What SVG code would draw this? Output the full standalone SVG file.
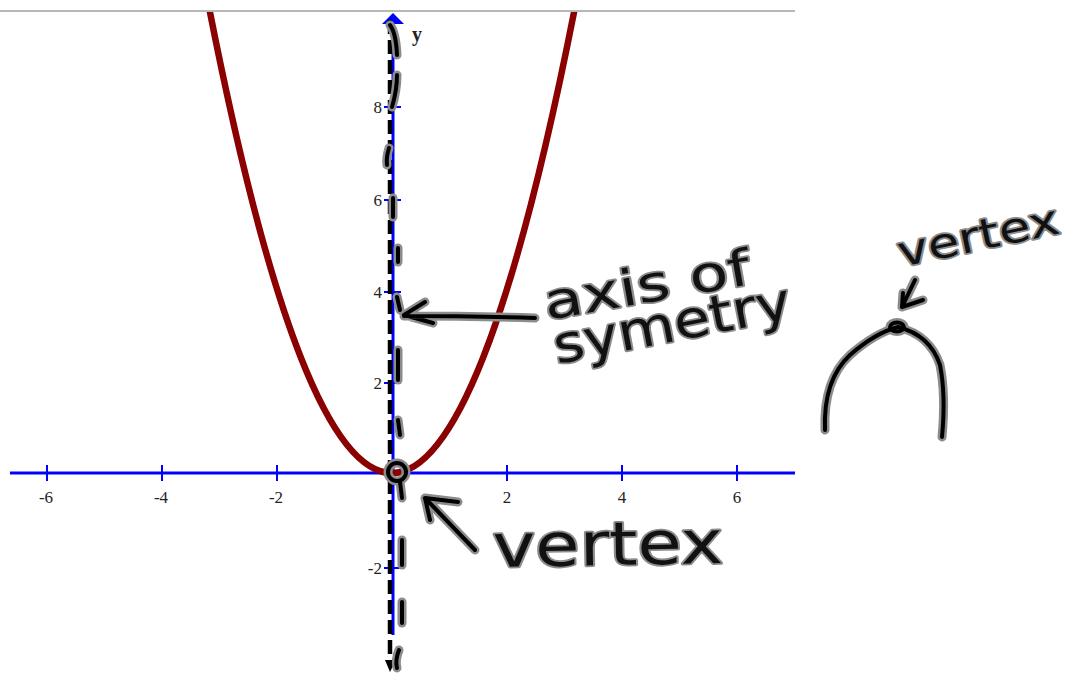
<svg xmlns="http://www.w3.org/2000/svg" xmlns:xlink="http://www.w3.org/1999/xlink" width="1075" height="675" viewBox="0 0 1075 675">
<style>
.axis{stroke:#0000ff;stroke-width:3;fill:none}
.tick{stroke:#0000ff;stroke-width:2}
.num{font-family:"Liberation Serif",serif;font-size:17px;fill:#222}
.halo{stroke:#8c8c8c;stroke-width:9;fill:none;stroke-linecap:round;stroke-linejoin:round}
.core{stroke:#000;stroke-width:4;fill:none;stroke-linecap:round;stroke-linejoin:round}
.hand{font-family:"DejaVu Sans",sans-serif;fill:#111;stroke:#8c8c8c;stroke-width:3.5;paint-order:stroke;stroke-linejoin:round}
</style>
<defs>
<clipPath id="plot"><rect x="0" y="12" width="800" height="670"/></clipPath>
<g id="ink">
<path d="M390,25 Q396,33 397,55"/>
<path d="M397,75 Q397,90 392,107"/>
<path d="M389,148 Q386,158 387,165"/>
<path d="M393,198 L393,217"/>
<path d="M398,248 L398,262"/>
<path d="M397,297 L400,310"/>
<path d="M398,350 L398,380"/>
<path d="M398,420 L400,435"/>
<path d="M400,482 L402,498"/>
<path d="M402,540 L402,565"/>
<path d="M402,602 L402,623"/>
<path d="M399,650 Q395,660 397,668"/>
<ellipse cx="397" cy="472" rx="9" ry="9"/>
<path d="M535,318 Q470,316 404,316 M425,302 L404,315 L433,323"/>
<path d="M475,550 L425,498 M458,502 L425,498 L430,520"/>
<path d="M915,280 L902,307 M903,293 L902,307 L923,300"/>
<path d="M825,430 Q823,380 850,355 Q875,333 898,327 Q930,335 940,365 Q946,395 942,437"/>
<ellipse cx="897" cy="327" rx="7" ry="4.5"/>
</g>
</defs>
<rect width="1075" height="675" fill="#fff"/>
<line x1="0" y1="11" x2="795" y2="11" stroke="#a0a0a0" stroke-width="1.5"/>
<g id="x-axis">
<line class="axis" x1="10" y1="473" x2="795" y2="473"/>
<g class="tick">
<line x1="47" y1="465" x2="47" y2="481"/><line x1="162" y1="465" x2="162" y2="481"/><line x1="277" y1="465" x2="277" y2="481"/>
<line x1="507" y1="465" x2="507" y2="481"/><line x1="622" y1="465" x2="622" y2="481"/><line x1="737" y1="465" x2="737" y2="481"/>
</g>
<g class="num" text-anchor="middle">
<text x="46" y="503">-6</text><text x="161" y="503">-4</text><text x="276" y="503">-2</text>
<text x="507" y="503">2</text><text x="622" y="503">4</text><text x="737" y="503">6</text>
</g>
</g>
<g id="y-axis">
<line class="axis" x1="393" y1="20" x2="393" y2="635"/>
<polygon points="382,24 393,13 404,24" fill="#0000ff"/>
<g class="tick">
<line x1="384" y1="107" x2="401" y2="107"/><line x1="384" y1="200" x2="401" y2="200"/><line x1="384" y1="292" x2="401" y2="292"/>
<line x1="384" y1="383" x2="401" y2="383"/><line x1="384" y1="568" x2="401" y2="568"/>
</g>
<g class="num" text-anchor="end">
<text x="382" y="113">8</text><text x="382" y="206">6</text><text x="382" y="298">4</text>
<text x="382" y="389">2</text><text x="382" y="574">-2</text>
</g>
<text x="412" y="41" font-family="Liberation Serif,serif" font-size="20" font-weight="bold" fill="#222">y</text>
</g>
<g id="parabola" clip-path="url(#plot)">
<path d="M209.7,10.8 Q392,935.3 574.3,10.8" fill="none" stroke="#8b0000" stroke-width="6.5"/>
</g>
<g id="connectors">
<line x1="390" y1="20" x2="390" y2="660" stroke="#000" stroke-width="4.5" stroke-dasharray="14,6"/>
<polygon points="385,660 396,660 390,672" fill="#000"/>
<use xlink:href="#ink" class="halo"/>
<use xlink:href="#ink" class="core"/>
</g>
<g id="label-axis">
<text class="hand" font-size="50" transform="translate(547,320) rotate(-10) scale(1.27,1)">axis of</text>
<text class="hand" font-size="52" transform="translate(557,364) rotate(-11) scale(1.13,1)">symetry</text>
</g>
<g id="label-vertex">
<text class="hand" font-size="60" transform="translate(493,567) rotate(-1) scale(1.2,1)">vertex</text>
</g>
<g id="label-vertex2">
<text class="hand" font-size="42" transform="translate(901,267) rotate(-12) scale(1.22,1)">vertex</text>
</g>
</svg>
